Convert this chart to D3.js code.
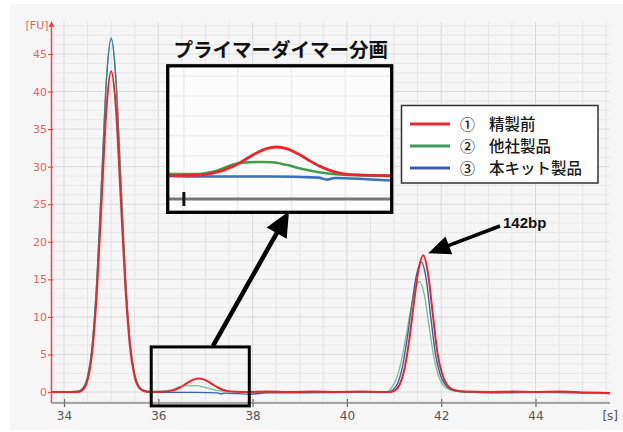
<!DOCTYPE html>
<html><head><meta charset="utf-8">
<script src="https://cdn.jsdelivr.net/npm/d3@7"></script>
<style>body{margin:0;background:#fff} svg{display:block}</style>
</head><body><svg id="c" width="623" height="432"></svg>
<script>
// ---------- data ----------
const xTicks = [34, 36, 38, 40, 42, 44];
const yTicks = [0, 5, 10, 15, 20, 25, 30, 35, 40, 45];
const seriesNames = ["精製前", "他社製品", "本キット製品"];
const seriesMarks = ["①", "②", "③"];
const insetTitle = "プライマーダイマー分画";
const peakLabel = "142bp";
const peakAt = [41.62, 18.2];
const zoomWindow = [35.85, 37.93];
const zoomBoxValues = [-1.85, 6.0];
const insetValues = [-2.3, 6.9];

// [time s, FU]
const red = [[33.72,0.0],[34.0,0.0],[34.2,0.0],[34.3,0.0],[34.4,0.3],[34.5,1.6],[34.6,5.4],[34.7,13.6],[34.8,25.8],[34.9,37.7],[35.0,42.7],[35.1,37.9],[35.2,26.2],[35.3,14.2],[35.4,6.0],[35.5,2.0],[35.6,0.5],[35.7,0.1],[35.8,0.0],[35.95,0.0],[36.06,0.02],[36.26,0.15],[36.46,0.6],[36.56,0.97],[36.66,1.37],[36.76,1.68],[36.86,1.8],[36.96,1.68],[37.06,1.37],[37.16,0.97],[37.26,0.6],[37.46,0.15],[37.66,0.03],[37.9,0.0],[38.3,0.05],[38.8,0.0],[39.3,0.05],[39.8,0.0],[40.3,0.05],[40.75,0.0],[40.92,0.0],[41.02,0.2],[41.12,1.0],[41.22,3.0],[41.32,6.8],[41.42,11.8],[41.52,16.3],[41.62,18.2],[41.72,15.8],[41.82,10.5],[41.92,5.2],[42.02,2.4],[42.12,1.0],[42.22,0.4],[42.32,0.2],[42.5,0.05],[43.0,0.0],[43.5,0.05],[44.0,0.0],[44.5,0.05],[45.0,-0.05],[45.58,-0.15]];
const green = [[33.72,0.0],[34.0,0.0],[34.3,0.1],[34.4,0.5],[34.5,2.1],[34.6,6.4],[34.7,15.3],[34.8,28.6],[34.9,41.7],[35.0,47.2],[35.1,41.9],[35.2,29.0],[35.3,15.8],[35.4,6.8],[35.5,2.4],[35.6,0.7],[35.7,0.2],[35.85,0.1],[36.1,0.1],[36.3,0.3],[36.45,0.68],[36.55,0.82],[36.7,0.86],[36.82,0.84],[36.95,0.68],[37.1,0.42],[37.25,0.22],[37.45,0.08],[37.7,0.02],[38.0,-0.05],[38.6,0.0],[39.5,-0.05],[40.4,0.0],[40.84,0.0],[40.94,0.5],[41.04,1.6],[41.14,3.7],[41.24,6.9],[41.34,10.5],[41.44,13.5],[41.54,14.7],[41.64,13.0],[41.74,8.9],[41.84,4.8],[41.94,2.2],[42.04,0.9],[42.14,0.4],[42.24,0.2],[42.4,0.05],[43.0,-0.1],[44.0,-0.05],[45.0,-0.1],[45.58,-0.15]];
const blue = [[33.72,0.0],[34.0,0.0],[34.3,0.1],[34.4,0.5],[34.5,2.0],[34.6,6.3],[34.7,15.2],[34.8,28.4],[34.9,41.5],[35.0,47.0],[35.1,41.7],[35.2,28.8],[35.3,15.6],[35.4,6.7],[35.5,2.3],[35.6,0.6],[35.7,0.2],[35.8,0.0],[36.2,-0.05],[36.8,-0.05],[37.25,-0.12],[37.33,-0.25],[37.4,-0.15],[37.7,-0.22],[37.95,-0.3],[38.3,-0.1],[39.0,-0.1],[40.0,-0.05],[40.88,0.0],[40.98,0.3],[41.08,1.2],[41.18,3.4],[41.28,7.2],[41.38,11.8],[41.48,15.7],[41.58,17.3],[41.68,15.1],[41.78,9.9],[41.88,5.0],[41.98,2.3],[42.08,1.0],[42.18,0.4],[42.28,0.2],[42.5,0.0],[43.2,-0.1],[44.0,-0.05],[45.0,-0.1],[45.58,-0.15]];

// ---------- layout ----------
const colors = {red:"#e8262d", green:"#3f9a5e", blue:"#3d5fb3"};
const insetColors = {red:"#e42a2e", green:"#3fa04f", blue:"#3b6fc0"};
const plot = {l:51.5, r:610, t:22, b:403};
const svg = d3.select("#c");
const x = d3.scaleLinear().domain([34, 44]).range([64, 535.5]);
const y = d3.scaleLinear().domain([0, 45]).range([392, 54]);

svg.append("rect").attr("x",10).attr("y",4).attr("width",613).attr("height",426).attr("fill","#f6f6f6");

// grid
const g = svg.append("g");
const tMin = x.invert(plot.l), tMax = x.invert(plot.r);
const vMin = y.invert(plot.b), vMax = y.invert(plot.t);
const vgrid = d3.range(Math.ceil(tMin*2)/2, tMax, 0.5);
const hgrid = d3.range(Math.ceil(vMin/1.25)*1.25, vMax, 1.25);
g.selectAll(".vg").data(vgrid).join("line")
  .attr("x1",d=>x(d)).attr("x2",d=>x(d)).attr("y1",plot.t).attr("y2",plot.b)
  .attr("stroke",d=>d%2===0?"#dadada":"#e4e4e4").attr("stroke-width",1);
g.selectAll(".hg").data(hgrid).join("line")
  .attr("x1",plot.l).attr("x2",plot.r).attr("y1",d=>y(d)).attr("y2",d=>y(d))
  .attr("stroke",d=>d%5===0?"#dcdcdc":"#e7e7e7").attr("stroke-width",1);

// lines
svg.append("clipPath").attr("id","pc").append("rect")
  .attr("x",plot.l).attr("y",plot.t).attr("width",plot.r-plot.l).attr("height",plot.b-plot.t);
const line = d3.line().x(d=>x(d[0])).y(d=>y(d[1])).curve(d3.curveMonotoneX);
const lg = svg.append("g").attr("clip-path","url(#pc)");
lg.append("path").datum(blue).attr("d",line).attr("fill","none").attr("stroke",colors.blue).attr("stroke-width",1.4);
lg.append("path").datum(green).attr("d",line).attr("fill","none").attr("stroke",colors.green).attr("stroke-width",1.3).attr("stroke-opacity",0.65);
lg.append("path").datum(red).attr("d",line).attr("fill","none").attr("stroke",colors.red).attr("stroke-width",2);

// axes
const axFont = "DejaVu Sans, Verdana, sans-serif";
const ya = svg.append("g").attr("transform",`translate(${plot.l+1.5},0)`)
  .call(d3.axisLeft(y).tickValues(yTicks).tickSize(5).tickPadding(1));
ya.select(".domain").remove();
ya.selectAll("line").attr("stroke","#e8474b").attr("stroke-width",1.2);
ya.selectAll("text").attr("fill","#e86464").attr("font-family",axFont).attr("font-size",11);
svg.append("line").attr("x1",plot.l).attr("x2",plot.l).attr("y1",plot.b).attr("y2",plot.t+4)
  .attr("stroke","#e8474b").attr("stroke-width",1.5);
svg.append("path").attr("d",`M${plot.l},${plot.t-1} L${plot.l-3},${plot.t+5} L${plot.l+3},${plot.t+5}Z`).attr("fill","#e8474b");
svg.append("text").attr("x",plot.l-3).attr("y",plot.t+7).attr("text-anchor","end")
  .attr("fill","#e86464").attr("font-family",axFont).attr("font-size",11).text("[FU]");

const xa = svg.append("g").attr("transform",`translate(0,${plot.b-4})`)
  .call(d3.axisBottom(x).tickValues(xTicks).tickSize(8).tickPadding(4));
xa.select(".domain").remove();
xa.selectAll("line").attr("stroke","#666").attr("stroke-width",1.2);
xa.selectAll("text").attr("fill","#555").attr("font-family",axFont).attr("font-size",12);
svg.append("line").attr("x1",plot.l).attr("x2",plot.r).attr("y1",plot.b).attr("y2",plot.b)
  .attr("stroke","#8a8a8a").attr("stroke-width",1.5);
svg.append("text").attr("x",618).attr("y",420).attr("text-anchor","end")
  .attr("fill","#555").attr("font-family",axFont).attr("font-size",12).text("[s]");

// zoom box on main chart
const bx0 = x(zoomWindow[0]), bx1 = x(zoomWindow[1]);
const by0 = y(zoomBoxValues[1]), by1 = y(zoomBoxValues[0]);
svg.append("rect").attr("x",bx0).attr("y",by0).attr("width",bx1-bx0).attr("height",by1-by0)
  .attr("fill","none").attr("stroke","#000").attr("stroke-width",3);

// inset
const ins = {l:167.7, r:391.7, t:65.8, b:212.3};
const xi = d3.scaleLinear().domain(zoomWindow).range([ins.l, ins.r]);
const yi = d3.scaleLinear().domain(insetValues).range([ins.b, ins.t]);
svg.append("clipPath").attr("id","ic").append("rect")
  .attr("x",ins.l).attr("y",ins.t).attr("width",ins.r-ins.l).attr("height",ins.b-ins.t);
const ig = svg.append("g").attr("clip-path","url(#ic)");
ig.append("rect").attr("x",ins.l).attr("y",ins.t).attr("width",ins.r-ins.l).attr("height",ins.b-ins.t).attr("fill","#fcfcfc");
ig.selectAll(".ivg").data(d3.range(35.5, 38.5, 0.5)).join("line")
  .attr("x1",d=>xi(d)).attr("x2",d=>xi(d)).attr("y1",ins.t).attr("y2",ins.b)
  .attr("stroke","#ececec").attr("stroke-width",1.5);
ig.selectAll(".ihg").data(d3.range(-2.5, 7.5, 1.25)).join("line")
  .attr("x1",ins.l).attr("x2",ins.r).attr("y1",d=>yi(d)).attr("y2",d=>yi(d))
  .attr("stroke","#efefef").attr("stroke-width",1.5);
const iline = d3.line().x(d=>xi(d[0])).y(d=>yi(d[1])).curve(d3.curveMonotoneX);
const ya0 = yi(y.invert(plot.b));
ig.append("line").attr("x1",ins.l).attr("x2",ins.r).attr("y1",ya0).attr("y2",ya0).attr("stroke","#777").attr("stroke-width",3);
ig.append("line").attr("x1",xi(36)).attr("x2",xi(36)).attr("y1",ya0-7).attr("y2",ya0+7).attr("stroke","#111").attr("stroke-width",3);
ig.append("path").datum(blue).attr("d",iline).attr("fill","none").attr("stroke",insetColors.blue).attr("stroke-width",2.6);
ig.append("path").datum(green).attr("d",iline).attr("fill","none").attr("stroke",insetColors.green).attr("stroke-width",2.6);
ig.append("path").datum(red).attr("d",iline).attr("fill","none").attr("stroke",insetColors.red).attr("stroke-width",2.8);
svg.append("rect").attr("x",ins.l).attr("y",ins.t).attr("width",ins.r-ins.l).attr("height",ins.b-ins.t)
  .attr("fill","none").attr("stroke","#000").attr("stroke-width",3.3);

const jpFont = "'Noto Sans CJK JP', 'Noto Sans', sans-serif";
svg.append("text").attr("x",(ins.l+ins.r)/2+1).attr("y",56.5).attr("text-anchor","middle")
  .attr("font-family",jpFont).attr("font-weight","bold").attr("font-size",19.5).attr("fill","#111").text(insetTitle);

// arrows
function arrow(p0, tip, w, hl, hw) {
  const dx = tip[0]-p0[0], dy = tip[1]-p0[1], L = Math.hypot(dx,dy);
  const ux = dx/L, uy = dy/L, nx = -uy, ny = ux;
  const bcx = tip[0]-hl*ux, bcy = tip[1]-hl*uy;
  svg.append("line").attr("x1",p0[0]).attr("y1",p0[1]).attr("x2",bcx+ux*2).attr("y2",bcy+uy*2)
    .attr("stroke","#000").attr("stroke-width",w);
  svg.append("path").attr("d",`M${tip[0]},${tip[1]} L${bcx+hw*nx},${bcy+hw*ny} L${bcx-hw*nx},${bcy-hw*ny}Z`).attr("fill","#000");
}
arrow([213, by0-1], [289, ins.b-1], 4.5, 25, 11.5);
const pk = [x(peakAt[0])+5, y(peakAt[1])-2];
arrow([500, 226], pk, 3.5, 22, 9.5);
svg.append("text").attr("x",503).attr("y",227.5).attr("font-family","Liberation Sans, Arial, sans-serif")
  .attr("font-weight","bold").attr("font-size",15).attr("fill","#111").text(peakLabel);

// legend
const leg = svg.append("g");
leg.append("rect").attr("x",401.5).attr("y",105.5).attr("width",196.5).attr("height",77.5)
  .attr("fill","#fff").attr("stroke","#333").attr("stroke-width",1.5);
const legColors = [colors.red, colors.green, colors.blue];
const rowY = [124, 146, 168];
seriesNames.forEach((n,i)=>{
  leg.append("line").attr("x1",410).attr("x2",450).attr("y1",rowY[i]).attr("y2",rowY[i])
    .attr("stroke",legColors[i]).attr("stroke-width",3);
  leg.append("text").attr("x",460).attr("y",rowY[i]+5.5).attr("font-family",jpFont).attr("font-weight",500)
    .attr("font-size",15).attr("fill","#1a1a1a").text(seriesMarks[i]);
  leg.append("text").attr("x",489).attr("y",rowY[i]+5.5).attr("font-family",jpFont).attr("font-weight",500)
    .attr("font-size",15.5).attr("fill","#1a1a1a").text(n);
});
</script></body></html>
